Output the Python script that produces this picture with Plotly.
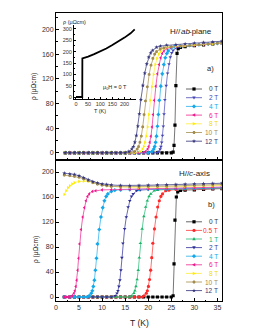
import plotly.graph_objects as go

# ---------------- data: panel a) H // ab-plane ----------------
T_ab_0 = [2, 3, 4, 5, 6, 7, 8, 9, 10, 11, 12, 13, 14, 15, 16, 17, 18, 19, 20, 21, 22, 23, 24, 25,
          25.4, 25.6, 25.8, 26.0, 26.25, 26.5, 27, 28, 30, 32, 34, 36]
R_ab_0 = [0, 0, 0, 0, 0, 0, 0, 0, 0, 0, 0, 0, 0, 0, 0, 0, 0, 0, 0, 0, 0, 0, 0, 0,
          1, 12, 45, 109, 161, 169, 171, 172, 173.5, 175, 176.5, 178]

T_ab_2 = [2, 3, 4, 5, 6, 7, 8, 9, 10, 11, 12, 13, 14, 15, 16, 17, 18, 19, 20, 21, 22,
          22.26, 22.6, 22.76, 22.93, 23.1, 23.27, 23.43, 23.6, 23.9, 24.2, 24.5, 24.8, 25.1, 25.4, 26.0, 26.6,
          28, 30, 32, 34, 36]
R_ab_2 = [0, 0, 0, 0, 0, 0, 0, 0, 0, 0, 0, 0, 0, 0, 0, 0, 0, 0, 0, 0, 0,
          2, 6, 10, 17, 28, 43, 63, 86, 109, 129, 144, 155, 162, 166, 170, 172,
          173.5, 174.6, 175.7, 176.8, 177.9]

T_ab_4 = [2, 3, 4, 5, 6, 7, 8, 9, 10, 11, 12, 13, 14, 15, 16, 17, 18, 19, 20,
          20.8, 21.2, 21.4, 21.6, 21.8, 22.0, 22.2, 22.4, 22.73, 23.05, 23.38, 23.7, 24.03, 24.35, 25.0, 25.65,
          27, 29, 31, 33, 35, 36]
R_ab_4 = [0, 0, 0, 0, 0, 0, 0, 0, 0, 0, 0, 0, 0, 0, 0, 0, 0, 0, 0,
          2, 6, 10, 17, 27, 43, 62, 85, 108, 128, 143, 154, 161, 165, 170, 172,
          173, 174, 175.2, 176.3, 177.4, 177.9]

T_ab_6 = [2, 3, 4, 5, 6, 7, 8, 9, 10, 11, 12, 13, 14, 15, 16, 17, 18, 19,
          19.4, 19.88, 20.11, 20.35, 20.59, 20.83, 21.06, 21.3, 21.65, 22.0, 22.35, 22.7, 23.05, 23.4, 24.1, 24.8,
          26, 28, 30, 32, 34, 36]
R_ab_6 = [0, 0, 0, 0, 0, 0, 0, 0, 0, 0, 0, 0, 0, 0, 0, 0, 0, 0,
          2, 6, 10, 17, 27, 42, 62, 85, 108, 128, 143, 154, 161, 165, 169, 171,
          172.4, 173.5, 174.6, 175.7, 176.8, 177.9]

T_ab_8 = [2, 3, 4, 5, 6, 7, 8, 9, 10, 11, 12, 13, 14, 15, 16, 17,
          18.2, 18.75, 19.03, 19.3, 19.58, 19.85, 20.13, 20.4, 20.78, 21.15, 21.53, 21.9, 22.28, 22.65, 23.4, 24.15,
          26, 28, 30, 32, 34, 36]
R_ab_8 = [0, 0, 0, 0, 0, 0, 0, 0, 0, 0, 0, 0, 0, 0, 0, 0,
          2, 6, 10, 17, 27, 42, 62, 85, 107, 127, 143, 153, 160, 164, 169, 171,
          172.4, 173.5, 174.6, 175.7, 176.8, 177.9]

T_ab_10 = [2, 3, 4, 5, 6, 7, 8, 9, 10, 11, 12, 13, 14, 15, 16,
           17.0, 17.6, 17.9, 18.2, 18.5, 18.8, 19.1, 19.4, 19.8, 20.2, 20.6, 21.0, 21.4, 21.8, 22.6, 23.4,
           25, 27, 29, 31, 33, 35, 36]
R_ab_10 = [0, 0, 0, 0, 0, 0, 0, 0, 0, 0, 0, 0, 0, 0, 0,
           2, 6, 10, 17, 27, 42, 62, 84, 107, 127, 142, 153, 160, 164, 168, 170,
           171.9, 173, 174, 175.2, 176.3, 177.4, 177.9]

T_ab_12 = [2, 3, 4, 5, 6, 7, 8, 9, 10, 11, 12, 13, 14, 15,
           15.8, 16.45, 16.78, 17.1, 17.43, 17.75, 18.08, 18.4, 18.83, 19.25, 19.68, 20.1, 20.53, 20.95, 21.8, 22.65,
           24, 26, 28, 30, 32, 34, 36]
R_ab_12 = [0, 0, 0, 0, 0, 0, 0, 0, 0, 0, 0, 0, 0, 0,
           2, 6, 10, 17, 28, 43, 63, 86, 109, 129, 144, 155, 162, 166, 171, 173,
           174.3, 175.4, 176.5, 177.6, 178.7, 179.8, 180.9]

# ---------------- data: panel b) H // c-axis ----------------
T_c_0 = [1.8, 3, 4, 5, 6, 7, 8, 9, 10, 11, 12, 13, 14, 15, 16, 17, 18, 19, 20, 21, 22, 23, 24, 25,
         25.4, 25.6, 25.8, 26.1, 26.4, 27, 28, 30, 32, 34, 36]
R_c_0 = [0, 0, 0, 0, 0, 0, 0, 0, 0, 0, 0, 0, 0, 0, 0, 0, 0, 0, 0, 0, 0, 0, 0, 0,
         2, 53, 123, 160, 168, 170.5, 171, 171.5, 172.2, 172.8, 173.5]

T_c_05 = [1.8, 3, 4, 5, 6, 7, 8, 9, 10, 11, 12, 13, 14, 15, 16, 17, 18, 18.7,
          19.1, 19.58, 19.81, 20.05, 20.29, 20.53, 20.76, 21.0, 21.35, 21.7, 22.05, 22.4, 22.75, 23.1, 23.8, 24.5,
          26, 28, 30, 32, 34, 36]
R_c_05 = [0, 0, 0, 0, 0, 0, 0, 0, 0, 0, 0, 0, 0, 0, 0, 0, 0, 0,
          2, 6, 10, 17, 28, 43, 63, 86, 109, 128, 144, 154, 161, 165, 170, 171,
          172.1, 172.4, 172.7, 173.1, 173.4, 173.8]

T_c_1 = [1.8, 3, 4, 5, 6, 7, 8, 9, 10, 11, 12, 13, 14, 15, 15.9,
         16.4, 16.88, 17.11, 17.35, 17.59, 17.83, 18.06, 18.3, 18.68, 19.05, 19.43, 19.8, 20.18, 20.55, 21.3, 22.05,
         24, 26, 28, 30, 32, 34, 36]
R_c_1 = [0, 0, 0, 0, 0, 0, 0, 0, 0, 0, 0, 0, 0, 0, 0,
         2, 6, 10, 17, 28, 43, 63, 86, 109, 129, 144, 154, 161, 165, 170, 171,
         172.2, 172.6, 172.9, 173.2, 173.6, 173.9, 174.3]

T_c_2 = [1.8, 3, 4, 5, 6, 7, 8, 9, 10, 11, 12,
         12.8, 13.23, 13.44, 13.65, 13.86, 14.08, 14.29, 14.5, 14.88, 15.25, 15.63, 16.0, 16.38, 16.75, 17.5, 18.25,
         20, 22, 24, 26, 28, 30, 32, 34, 36]
R_c_2 = [0, 0, 0, 0, 0, 0, 0, 0, 0, 0, 0,
         2, 6, 10, 17, 27, 43, 63, 86, 109, 128, 144, 154, 161, 165, 170, 171,
         172, 172.4, 172.7, 173.1, 173.4, 173.7, 174.1, 174.4, 174.8]

T_c_4 = [1.8, 3, 4, 5, 6, 6.8,
         7.2, 7.65, 7.88, 8.1, 8.33, 8.55, 8.78, 9.0, 9.38, 9.75, 10.13, 10.5, 10.88, 11.25, 12.0, 12.75,
         14, 16, 18, 20, 22, 24, 26, 28, 30, 32, 34, 36]
R_c_4 = [0, 0, 0, 0, 0, 0,
         2, 6, 10, 17, 27, 43, 62, 85, 108, 128, 143, 154, 161, 165, 169, 171,
         171.5, 171.9, 172.2, 172.5, 172.9, 173.2, 173.6, 173.9, 174.2, 174.6, 174.9, 175.3]

T_c_6 = [1.8, 2.2, 2.6, 3.0,
         3.5, 3.9, 4.1, 4.3, 4.5, 4.7, 4.9, 5.1, 5.45, 5.8, 6.15, 6.5, 6.85, 7.2, 7.9, 8.6,
         10, 12, 14, 16, 18, 20, 22, 24, 26, 28, 30, 32, 34, 36]
R_c_6 = [0, 0, 0, 0,
         2, 6, 10, 17, 27, 43, 62, 85, 108, 128, 143, 154, 161, 165, 169, 170,
         171.4, 171.7, 172.1, 172.4, 172.8, 173.2, 173.5, 173.9, 174.2, 174.6, 175, 175.3, 175.7, 176]

T_c_8 = [1.8, 2.2, 2.6, 3.0, 3.5, 4, 5, 6, 7, 8, 9, 10, 11, 12, 14, 16, 18, 20, 22, 24, 26, 28, 30, 32, 34, 36]
R_c_8 = [164, 170, 175, 178, 181, 183, 185, 185.5, 185, 183.5, 181.5, 179.5, 178, 177, 176, 175.5,
         175.5, 175.5, 175.7, 176, 176.4, 176.8, 177.2, 177.6, 178, 178.5]

T_c_10 = [1.8, 3, 4, 5, 6, 7, 8, 9, 10, 11, 12, 14, 16, 18, 20, 22, 24, 26, 28, 30, 32, 34, 36]
R_c_10 = [195, 194, 193, 191.5, 189, 186, 183, 180.5, 179, 178, 177, 176.5, 176.5, 176.6, 176.8,
          177.1, 177.4, 177.8, 178.2, 178.6, 179.1, 179.5, 180]

T_c_12 = [1.8, 3, 4, 5, 6, 7, 8, 9, 10, 11, 12, 14, 16, 18, 20, 22, 24, 26, 28, 30, 32, 34, 36]
R_c_12 = [198, 197, 196, 194, 191, 187.5, 184.5, 182.5, 181, 180, 179.2, 178.5, 178.3, 178.5, 178.8,
          179.2, 179.6, 180, 180.4, 180.8, 181.2, 181.6, 182]

# ---------------- data: inset, zero field, wide range ----------------
T_inset = [0, 5, 10, 15, 20, 25, 25.8, 26.3, 30, 40, 50, 75, 100, 125, 150, 175, 200, 225, 242]
R_inset = [0, 0, 0, 0, 0, 0, 0, 170, 171, 174, 178, 189, 201, 214, 229, 245, 262, 281, 298]

# ---------------- labels / styles ----------------
labels_ab = ["0 T", "2 T", "4 T", "6 T", "8 T", "10 T", "12 T"]
labels_c = ["0 T", "0.5 T", "1 T", "2 T", "4 T", "6 T", "8 T", "10 T", "12 T"]

series_ab = [(T_ab_0, R_ab_0), (T_ab_2, R_ab_2), (T_ab_4, R_ab_4), (T_ab_6, R_ab_6),
             (T_ab_8, R_ab_8), (T_ab_10, R_ab_10), (T_ab_12, R_ab_12)]
series_c = [(T_c_0, R_c_0), (T_c_05, R_c_05), (T_c_1, R_c_1), (T_c_2, R_c_2), (T_c_4, R_c_4),
            (T_c_6, R_c_6), (T_c_8, R_c_8), (T_c_10, R_c_10), (T_c_12, R_c_12)]

STY = {
    "0 T":   dict(color="#000000", line="#666666", symbol="square", text="#333333"),
    "0.5 T": dict(color="#ff2a2a", line="#ff6060", symbol="circle", text="#ff2a2a"),
    "1 T":   dict(color="#19b466", line="#50c890", symbol="triangle-up", text="#19b466"),
    "2 T":   dict(color="#2f2f95", line="#5a5ab0", symbol="triangle-down", text="#3a3aa0"),
    "4 T":   dict(color="#14a8ea", line="#50c0f0", symbol="diamond", text="#14a8ea"),
    "6 T":   dict(color="#f0168c", line="#f050a8", symbol="triangle-left", text="#f0168c"),
    "8 T":   dict(color="#ffec00", line="#fff060", symbol="triangle-right", text="#f0dc00"),
    "10 T":  dict(color="#a38c4c", line="#b8a470", symbol="hexagon", text="#a38c4c"),
    "12 T":  dict(color="#35357a", line="#5a5a95", symbol="star", text="#35357a"),
}
STY_AB2 = dict(STY["2 T"], color="#4646b8", line="#7070c8", text="#4646b8")

W, H = 255, 330
ML, MR, MT, MB = 48, 41, 5, 37
PW = W - ML - MR
PH = H - MT - MB


def px(x):
    return (x - ML) / PW


def py(y):
    return (H - MB - y) / PH


SPLIT = py(151.7)
FONT = "Liberation Sans, Arial, sans-serif"

fig = go.Figure()


def add_series(T, R, sty, xa, ya):
    fig.add_trace(go.Scatter(
        x=T, y=R, xaxis=xa, yaxis=ya, mode="lines+markers", showlegend=False,
        line=dict(color=sty["line"], width=0.9),
        marker=dict(symbol=sty["symbol"], size=3.2, color=sty["color"], line=dict(width=0)),
    ))


for lab, (T, R) in zip(labels_ab, series_ab):
    sty = STY_AB2 if lab == "2 T" else STY[lab]
    add_series(T, R, sty, "x2", "y2")

for lab, (T, R) in zip(labels_c, series_c):
    add_series(T, R, STY[lab], "x", "y")

fig.add_trace(go.Scatter(x=T_inset, y=R_inset, xaxis="x3", yaxis="y3", mode="lines",
                         showlegend=False, line=dict(color="black", width=1.8)))

tickfont = dict(family=FONT, size=7, color="#333333")
base_axis = dict(showline=True, linecolor="black", linewidth=1, ticks="inside", ticklen=3,
                 tickwidth=1, tickcolor="black", showgrid=False, zeroline=False, tickfont=tickfont)

fig.update_layout(
    width=W, height=H, margin=dict(l=ML, r=MR, t=MT, b=MB, pad=0),
    paper_bgcolor="white", plot_bgcolor="white", showlegend=False,
    xaxis=dict(base_axis, domain=[0, 1], anchor="y", range=[0, 36], tick0=0, dtick=5, mirror=True,
               minor=dict(ticks="inside", ticklen=1.5, dtick=2.5, tickcolor="black")),
    xaxis2=dict(base_axis, domain=[0, 1], anchor="y2", range=[0, 36], tick0=0, dtick=5, mirror=True,
                showticklabels=False, matches="x",
                minor=dict(ticks="inside", ticklen=1.5, dtick=2.5, tickcolor="black")),
    yaxis=dict(base_axis, domain=[0, SPLIT], anchor="x", range=[-6.4, 219.7], tick0=0, dtick=40,
               mirror=True, minor=dict(ticks="inside", ticklen=1.5, dtick=20, tickcolor="black")),
    yaxis2=dict(base_axis, domain=[SPLIT, 1], anchor="x2", range=[-11.2, 226.6], tick0=0, dtick=40,
                mirror=True, minor=dict(ticks="inside", ticklen=1.5, dtick=20, tickcolor="black"),
                title=dict(text="\u03c1 (\u03bc\u03a9cm)", standoff=4,
                           font=dict(family=FONT, size=6.5, color="#222222"))),
    xaxis3=dict(base_axis, domain=[px(66), px(128)], anchor="y3", range=[-8.2, 247.4],
                tickvals=[0, 50, 100, 150, 200], ticklen=2, mirror=False,
                tickfont=dict(family=FONT, size=5.5, color="#333333"),
                minor=dict(ticks="inside", ticklen=1, dtick=25, tickcolor="black")),
    yaxis3=dict(base_axis, domain=[py(90.5), py(17)], anchor="x3", range=[-6.6, 317.6],
                tick0=0, dtick=50, ticklen=2, mirror=False,
                tickfont=dict(family=FONT, size=5.5, color="#333333"),
                minor=dict(ticks="inside", ticklen=1, dtick=25, tickcolor="black")),
)

ann = []
shapes = []


def text(x, y, s, size=8, color="#222222", angle=0, xanchor="center", family=FONT, style="normal"):
    ann.append(dict(x=px(x), y=py(y), xref="paper", yref="paper", text=s, showarrow=False,
                    textangle=angle, xanchor=xanchor, yanchor="middle",
                    font=dict(family=family, size=size, color=color, style=style)))


text(28, 242, "\u03c1 (\u03bc\u03a9cm)", size=6.5, angle=-90)
text(131, 315, "T (K)", size=8.5)
# "H//ab-plane" with italic "ab"
text(160.4, 24, "H//", size=8, xanchor="left")
text(170.6, 24, "ab", size=8, xanchor="left", style="italic")
text(179.3, 24, "-plane", size=8, xanchor="left")
text(202.5, 61, "a)", size=7.5)
# "H//c-axis" with italic "c"
text(168.5, 165.5, "H//", size=8, xanchor="left")
text(178.7, 165.5, "c", size=8, xanchor="left", style="italic")
text(182.6, 165.5, "-axis", size=8, xanchor="left")
text(203, 196, "b)", size=7.5)
text(66, 14, "\u03c1 (\u03bc\u03a9cm)", size=5.5)
text(91.5, 103, "T (K)", size=5.5)
text(107, 80, "\u03bc<sub>0</sub>H = 0 T", size=5.5)


# legend key markers drawn as small paper-referenced shapes (r = radius in px)
KEY_PTS = {
    "triangle-up": [(0, -1.2), (1.1, 0.8), (-1.1, 0.8)],
    "triangle-down": [(0, 1.2), (1.1, -0.8), (-1.1, -0.8)],
    "triangle-left": [(-1.2, 0), (0.8, -1.1), (0.8, 1.1)],
    "triangle-right": [(1.2, 0), (-0.8, -1.1), (-0.8, 1.1)],
    "diamond": [(0, -1.3), (1.3, 0), (0, 1.3), (-1.3, 0)],
    "hexagon": [(1, 0), (0.5, 0.87), (-0.5, 0.87), (-1, 0), (-0.5, -0.87), (0.5, -0.87)],
    "star": [(0, -1.3), (0.3, -0.4), (1.25, -0.4), (0.5, 0.15), (0.78, 1.05), (0, 0.5),
             (-0.78, 1.05), (-0.5, 0.15), (-1.25, -0.4), (-0.3, -0.4)],
}


def key_marker(cx, cy, symbol, color, r=1.6):
    if symbol == "square":
        shapes.append(dict(type="rect", xref="paper", yref="paper", x0=px(cx - r), x1=px(cx + r),
                           y0=py(cy + r), y1=py(cy - r), fillcolor=color, line=dict(width=0)))
    elif symbol == "circle":
        shapes.append(dict(type="circle", xref="paper", yref="paper", x0=px(cx - r), x1=px(cx + r),
                           y0=py(cy + r), y1=py(cy - r), fillcolor=color, line=dict(width=0)))
    else:
        pts = KEY_PTS[symbol]
        path = "M" + " L".join(f"{px(cx + a * r):.5f},{py(cy + b * r):.5f}" for a, b in pts) + " Z"
        shapes.append(dict(type="path", xref="paper", yref="paper", path=path,
                           fillcolor=color, line=dict(width=0)))


def legend(labels, y0, dy, ab=False):
    for i, lab in enumerate(labels):
        sty = STY_AB2 if (ab and lab == "2 T") else STY[lab]
        yy = y0 + dy * i
        shapes.append(dict(type="line", xref="paper", yref="paper", x0=px(178), x1=px(194),
                           y0=py(yy), y1=py(yy), line=dict(color=sty["line"], width=1)))
        key_marker(186, yy, sty["symbol"], sty["color"])
        text(211.5, yy, lab, size=6.5, color=sty["text"], xanchor="right")


legend(labels_ab, 81, 8.7, ab=True)
legend(labels_c, 213.8, 8.6)

fig.update_layout(annotations=ann, shapes=shapes)
fig.write_html("out.html")
